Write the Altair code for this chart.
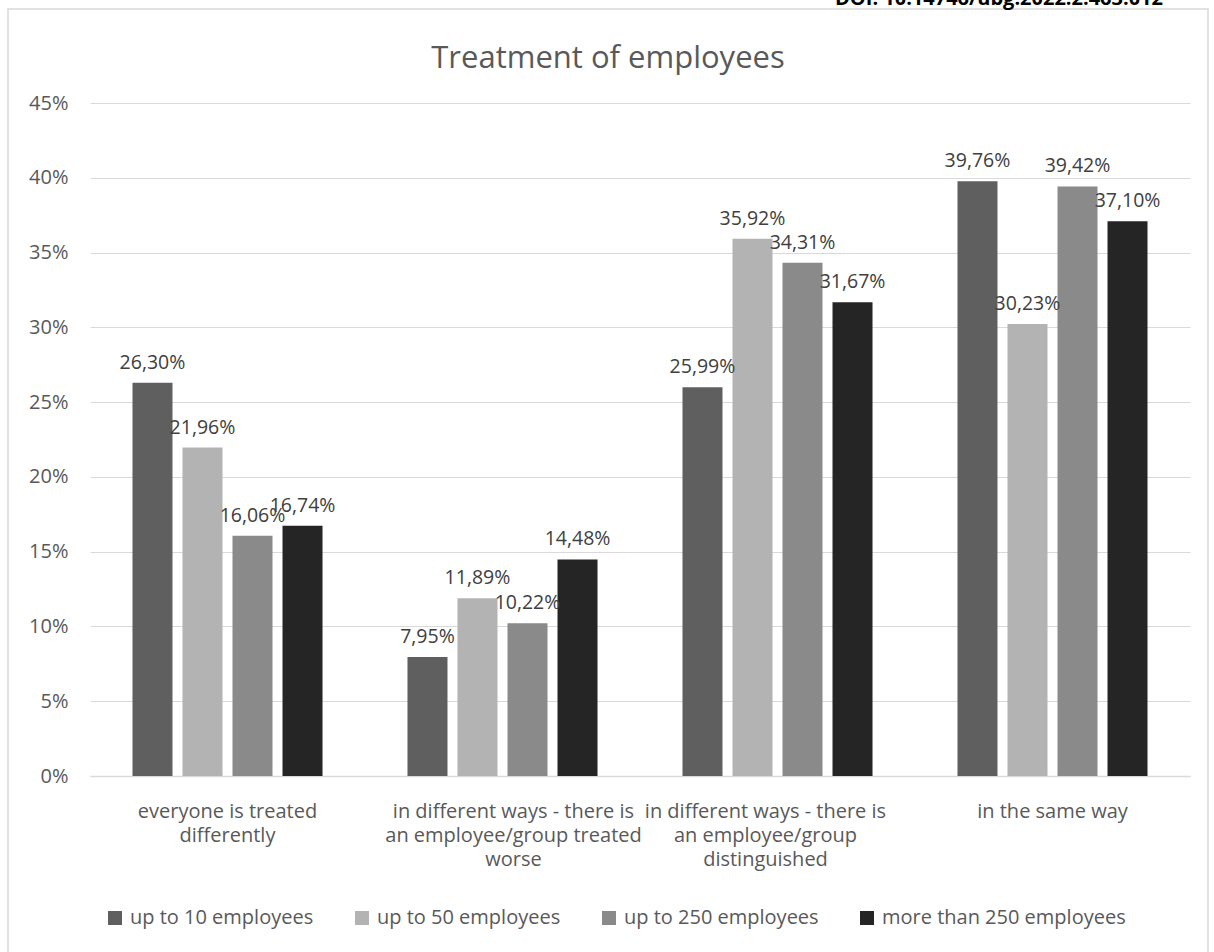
import altair as alt
import pandas as pd

categories = [
    "everyone is treated|differently",
    "in different ways - there is|an employee/group treated|worse",
    "in different ways - there is|an employee/group|distinguished",
    "in the same way",
]
series = ["up to 10 employees", "up to 50 employees", "up to 250 employees", "more than 250 employees"]
up_to_10 = [26.30, 7.95, 25.99, 39.76]
up_to_50 = [21.96, 11.89, 35.92, 30.23]
up_to_250 = [16.06, 10.22, 34.31, 39.42]
more_than_250 = [16.74, 14.48, 31.67, 37.10]
colors = ["#5f5f5f", "#b3b3b3", "#8a8a8a", "#252525"]
y_ticks = [0, 5, 10, 15, 20, 25, 30, 35, 40, 45]
title_text = "Treatment of employees"
doi_text = "DOI: 10.14746/ubg.2022.2.463.012"

rows = []
for s, vals in zip(series, [up_to_10, up_to_50, up_to_250, more_than_250]):
    for c, v in zip(categories, vals):
        rows.append({"category": c, "series": s, "value": v})
df = pd.DataFrame(rows)

FONT = "Open Sans"
TXT = "#595959"

offset_cond = {
    "condition": [
        {"test": f"datum.value == '{categories[1]}'", "value": 11},
        {"test": f"datum.value == '{categories[2]}'", "value": -12},
    ],
    "value": 0,
}

base = alt.Chart(df).encode(
    x=alt.X(
        "category:N",
        sort=categories,
        scale=alt.Scale(paddingInner=0.309, paddingOuter=0.1545),
        axis=alt.Axis(
            title=None,
            labelAngle=0,
            labelExpr="split(datum.label, '|')",
            labelFont=FONT,
            labelFontSize=20,
            labelColor=TXT,
            labelLineHeight=24,
            labelPadding=25,
            labelOffset=offset_cond,
            ticks=False,
            domainColor="#d9d9d9",
            domainWidth=1.5,
            grid=False,
            labelLimit=400,
        ),
    ),
    xOffset=alt.XOffset("series:N", sort=series, scale=alt.Scale(paddingInner=0.2, paddingOuter=0)),
    y=alt.Y(
        "value:Q",
        scale=alt.Scale(domain=[0, 45], nice=False, zero=True),
        axis=alt.Axis(
            title=None,
            values=y_ticks,
            labelExpr="datum.value + '%'",
            labelFont=FONT,
            labelFontSize=20,
            labelColor=TXT,
            labelPadding=22,
            ticks=False,
            domain=False,
            gridColor="#d9d9d9",
            gridWidth=1.2,
        ),
    ),
)

bars = base.mark_bar().encode(
    color=alt.Color(
        "series:N",
        sort=series,
        scale=alt.Scale(domain=series, range=colors),
        legend=alt.Legend(
            title=None,
            orient="none",
            legendX=15,
            legendY=805,
            direction="horizontal",
            symbolType="square",
            symbolSize=196,
            symbolStrokeWidth=0,
            symbolOpacity=1,
            labelFont=FONT,
            labelFontSize=20,
            labelColor=TXT,
            labelOffset=5,
            columnPadding=38,
            labelLimit=400,
        ),
    )
)

labels = base.transform_calculate(
    lbl="replace(format(datum.value, '.2f'), '.', ',') + '%'"
).mark_text(
    baseline="alphabetic", dy=-14, font=FONT, fontSize=19.5, color="#404040"
).encode(text="lbl:N")

title = alt.Chart(pd.DataFrame({"t": [title_text]})).mark_text(
    font=FONT, fontSize=31, color=TXT, baseline="middle", align="center"
).encode(x=alt.value(518), y=alt.value(-44), text="t:N")

doi = alt.Chart(pd.DataFrame({"t": [doi_text]})).mark_text(
    font=FONT, fontSize=20, fontWeight="bold", color="#000000", baseline="alphabetic", align="right"
).encode(x=alt.value(1073), y=alt.value(-98), text="t:N")

border = alt.Chart(pd.DataFrame({"a": [0]})).mark_rect(
    fillOpacity=0, stroke="#d9d9d9", strokeWidth=1.5
).encode(x=alt.value(-82), x2=alt.value(1118), y=alt.value(-94), y2=alt.value(870))

chart = alt.layer(border, bars, labels, title, doi).properties(
    width=1100,
    height=673,
    padding={"left": 90, "top": 103, "right": 24, "bottom": 176},
    autosize=alt.AutoSizeParams(type="none"),
    background="white",
).configure_view(stroke="transparent")

chart.save("out.html", embed_options={"renderer": "svg", "actions": False})
